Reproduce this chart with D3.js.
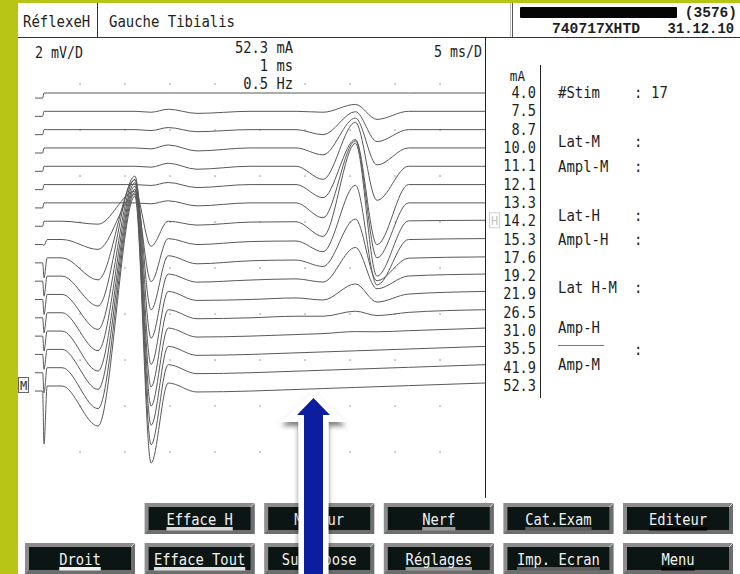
<!DOCTYPE html>
<html>
<head>
<meta charset="utf-8">
<script src="https://cdn.jsdelivr.net/npm/d3@7"></script>
<style>
  html, body { margin: 0; padding: 0; background: #fff; }
  svg { display: block; }
</style>
</head>
<body>
<svg id="screen" width="740" height="574"></svg>
<script>
// ---- H-reflex series, tibialis (left side) ----
// stimulus intensity of each sweep (mA), top to bottom
const stimLevels = ["4.0","7.5","8.7","10.0","11.1","12.1","13.3","14.2","15.3","17.6","19.2","21.9","26.5","31.0","35.5","41.9","52.3"];

// M response components per sweep (mV): initial negative dip, main positive peak, following trough
const mDip    = [0,0,0,0,0,0,0,0.13,0.43,0.96,1.30,1.52,1.65,1.74,1.74,1.78,1.74];
const mPeak   = [0,0,0,0,0,0,0,1.30,1.96,3.39,4.35,5.00,5.65,6.30,6.96,7.61,8.26];
const mTrough = [0,0.04,0.04,0.04,0.04,0.04,0.04,1.09,1.83,2.26,2.70,3.04,3.22,3.26,3.30,3.35,3.35];
// small late deflections after the M response (mV)
const lateHump = [0,0.09,0.09,0.13,0.13,0.09,0.09,0,0.04,0.09,0.09,0.13,0.13,0.13,0.13,0.13,0.13];
const lateSag  = [0,0.09,0.09,0.13,0.13,0.13,0.13,0.17,0.22,0.26,0.26,0.26,0.26,0.26,0.26,0.26,0.26];
// slow baseline drift after the M response (mV at 23 ms and at end of sweep)
const driftMid = [0,0,0,0,0,0,0,-0.04,-0.09,-0.13,-0.17,-0.22,-0.22,-0.22,-0.22,-0.22,-0.22];
const driftEnd = [0,0,0,0,0,0,0,0.04,0.04,0.04,0.09,0.13,0.13,0.13,0.13,0.13,0.13];
// H response components per sweep (mV)
const hDip    = [0,0.04,0.22,0.30,0.57,0.57,0.65,0.65,0.48,0.30,0.17,0.13,0.04,0,0,0,0];
const hPeak   = [0,0.30,0.78,1.30,1.91,1.96,2.70,3.39,2.39,1.74,1.30,0.52,0.13,0.04,0,0,0];
const hTrough = [0,0.35,0.52,0.74,1.48,2.61,2.39,2.39,1.96,0.96,0.52,0.30,0.09,0,0,0,0];
// stimulus artefact depth (mV)
const artifact = [0,0,0,0,0,0,0,0,0.26,0.87,0.87,0.87,0.87,0.87,0.87,1.09,2.52];
const preStimLevel = -0.22;   // level of the pre-stimulus segment (mV)

// latencies of the waveform landmarks (ms after stimulus)
const tM = { onset: 2.0, dip: 6.0, peak: 10.1, trough: 11.9, hump: 13.8, sag: 17.0, mid: 22.9 };
const tH = { onset: 28.0, dip: 31.0, peak: 34.6, trough: 37.0, end: 40.5 };
const sweepStart = -1, sweepEnd = 49;  // 5 ms/D x 10 divisions

// cursor positions
const hCursor = "14.2", mCursor = "52.3";

// side panel
const infoRows = [
  { label: "#Stim",   value: "17", row: 0 },
  { label: "Lat-M",   value: "",   row: 1 },
  { label: "Ampl-M",  value: "",   row: 2 },
  { label: "Lat-H",   value: "",   row: 3 },
  { label: "Ampl-H",  value: "",   row: 4 },
  { label: "Lat H-M", value: "",   row: 5 }
];

// soft keys: [row, column, label, marker colour]
const keys = [
  [0, 1, "Efface H",    "#d6d6d6"],
  [0, 2, "Moteur",      null],
  [0, 3, "Nerf",        "#9a9a9a"],
  [0, 4, "Cat.Exam",    "#5e5e5e"],
  [0, 5, "Editeur",     "#020202"],
  [1, 0, "Droit",       "#f2f2f2"],
  [1, 1, "Efface Tout", "#e0e0e0"],
  [1, 2, "Superpose",   null],
  [1, 3, "Réglages",    "#9a9a9a"],
  [1, 4, "Imp. Ecran",  "#5e5e5e"],
  [1, 5, "Menu",        "#020202"]
];

// ---- drawing ----
const svg = d3.select("#screen");
const MONO = "'DejaVu Sans Mono', monospace";

function monoText(g, str, x, y, o = {}) {
  const cw = o.cw || 8.4;
  return g.append("text")
    .attr("x", x).attr("y", y)
    .attr("font-family", o.family || MONO)
    .attr("font-size", o.size || 16)
    .attr("font-weight", o.weight || "normal")
    .attr("fill", o.fill || "#1e1e1e")
    .attr("text-anchor", o.anchor || "start")
    .attr("textLength", str.length * cw)
    .attr("lengthAdjust", "spacingAndGlyphs")
    .style("white-space", "pre")
    .text(str);
}

svg.append("rect").attr("width", 740).attr("height", 574).attr("fill", "#fff");

// frame of the screen
svg.append("rect").attr("x", 0).attr("y", 0).attr("width", 740).attr("height", 3).attr("fill", "#b7c616");
svg.append("rect").attr("x", 0).attr("y", 0).attr("width", 18).attr("height", 574).attr("fill", "#b7c616");

// header
const head = svg.append("g");
head.append("line").attr("x1", 18).attr("x2", 740).attr("y1", 37.5).attr("y2", 37.5).attr("stroke", "#333");
head.append("line").attr("x1", 97.5).attr("x2", 97.5).attr("y1", 3).attr("y2", 37).attr("stroke", "#333");
head.append("line").attr("x1", 510.5).attr("x2", 510.5).attr("y1", 3).attr("y2", 37).attr("stroke", "#bbb");
head.append("line").attr("x1", 512.5).attr("x2", 512.5).attr("y1", 3).attr("y2", 37).attr("stroke", "#555");
monoText(head, "RéflexeH", 23, 27);
monoText(head, "Gauche Tibialis", 109, 27);
head.append("rect").attr("x", 520).attr("y", 7).attr("width", 157).attr("height", 11)
  .attr("rx", 1).attr("fill", "#050505");
const serifMono = "'Liberation Mono', 'Courier New', monospace";
monoText(head, "(3576)", 737, 17, { family: serifMono, weight: "bold", anchor: "end", cw: 8.7, size: 15 });
monoText(head, "740717XHTD", 552, 33, { family: serifMono, weight: "bold", cw: 8.8, size: 15 });
monoText(head, "31.12.10", 734, 33, { family: serifMono, weight: "bold", anchor: "end", cw: 8.3, size: 15 });

// acquisition settings
monoText(svg, "2 mV/D", 35, 58, { cw: 8.0 });
monoText(svg, "52.3 mA", 293, 53, { anchor: "end", cw: 8.3 });
monoText(svg, "1 ms", 293, 71, { anchor: "end", cw: 8.3 });
monoText(svg, "0.5 Hz", 293, 89, { anchor: "end", cw: 8.3 });
monoText(svg, "5 ms/D", 482, 57, { anchor: "end", cw: 8.0 });

// scales
const x = d3.scaleLinear().domain([sweepStart, sweepEnd]).range([35, 485]);
const volt = d3.scaleLinear().domain([0, 20]).range([38, 498]);   // 2 mV/D, 10 divisions
const band = d3.scalePoint().domain(stimLevels).range([93, 386]);
const mvPx = v => volt(v) - volt(0);

// graticule dots
const gridT = d3.range(sweepStart + 5, sweepEnd - 1, 5);
const gridV = d3.range(2, 19, 2);
const dots = svg.append("g").attr("fill", "#a8a8a8");
gridV.forEach(v => gridT.forEach(t => {
  dots.append("rect").attr("x", x(t) - 0.7).attr("y", volt(v) - 0.7).attr("width", 1.5).attr("height", 1.5);
}));

// panel borders
svg.append("line").attr("x1", 485.5).attr("x2", 485.5).attr("y1", 37).attr("y2", 498).attr("stroke", "#222");
svg.append("line").attr("x1", 540.5).attr("x2", 540.5).attr("y1", 65).attr("y2", 398).attr("stroke", "#222");

// sweeps
function sweepPoints(i) {
  const base = t => driftMid[i] + (driftEnd[i] - driftMid[i]) * (t - tM.mid) / (sweepEnd - tM.mid);
  return [
    [sweepStart, preStimLevel], [-0.15, preStimLevel], [0, -artifact[i]], [0.35, 0],
    [tM.onset, 0], [tM.dip, -mDip[i]], [tM.peak, mPeak[i]], [tM.trough, -mTrough[i]],
    [tM.hump, lateHump[i]], [tM.sag, -lateSag[i]], [tM.mid, driftMid[i]],
    [tH.onset, base(tH.onset)], [tH.dip, base(tH.dip) - hDip[i]],
    [tH.peak, base(tH.peak) + hPeak[i]], [tH.trough, base(tH.trough) - hTrough[i]],
    [tH.end, base(tH.end)], [sweepEnd, driftEnd[i]]
  ];
}
const traces = svg.append("g").attr("fill", "none").attr("stroke", "#595959").attr("stroke-width", 1);
stimLevels.forEach((s, i) => {
  const y0 = band(s);
  const line = d3.line()
    .x(d => x(d[0]))
    .y(d => y0 - mvPx(d[1]))
    .curve(d3.curveMonotoneX);
  traces.append("path").attr("d", line(sweepPoints(i)));
});

// intensity column
monoText(svg, "mA", 525, 81, { anchor: "end", size: 14, cw: 7.6 });
const col = svg.append("g");
stimLevels.forEach(s => monoText(col, s, 536, band(s) + 5, { anchor: "end", cw: 8.2 }));

// cursors
const hy = band(hCursor);
svg.append("rect").attr("x", 489.5).attr("y", hy - 8.5).attr("width", 10).attr("height", 15)
  .attr("fill", "#fff").attr("stroke", "#d0d0d0");
svg.append("text").attr("x", 494.5).attr("y", hy + 4).attr("text-anchor", "middle")
  .attr("font-family", MONO).attr("font-size", 12).attr("fill", "#c4c4c4").text("H");
const my = band(mCursor);
svg.append("rect").attr("x", 18.5).attr("y", my - 8.5).attr("width", 10).attr("height", 15)
  .attr("fill", "#f4f4f4").attr("stroke", "#666");
svg.append("text").attr("x", 23.5).attr("y", my + 4).attr("text-anchor", "middle")
  .attr("font-family", MONO).attr("font-size", 12).attr("fill", "#333").text("M");

// results panel
const info = svg.append("g");
const infoY = [98, 147, 172, 221, 245, 293];
infoRows.forEach(r => {
  const y = infoY[r.row];
  monoText(info, r.label, 558, y);
  monoText(info, ":", 634, y);
  if (r.value) monoText(info, r.value, 651, y);
});
monoText(info, "Amp-H", 558, 333);
info.append("line").attr("x1", 558).attr("x2", 604).attr("y1", 345.5).attr("y2", 345.5).attr("stroke", "#777");
monoText(info, ":", 634, 355);
monoText(info, "Amp-M", 558, 370);

// soft keys
const keyX = d3.scaleLinear().domain([0, 5]).range([25, 623]);
const keyY = d3.scaleLinear().domain([0, 1]).range([503, 543]);
const kw = 110, kh = 31, bev = 4;
const keyG = svg.append("g");
keys.forEach(([row, c, label, mark]) => {
  const x0 = keyX(c), y0 = keyY(row);
  const g = keyG.append("g");
  g.append("rect").attr("x", x0).attr("y", y0).attr("width", kw).attr("height", kh).attr("fill", "#8c8c8c");
  g.append("path").attr("fill", "#6e6e6e")
    .attr("d", `M${x0 + kw},${y0} L${x0 + kw},${y0 + kh} L${x0},${y0 + kh} L${x0 + bev},${y0 + kh - bev} L${x0 + kw - bev},${y0 + kh - bev} L${x0 + kw - bev},${y0 + bev} Z`);
  g.append("line").attr("x1", x0 + kw - bev).attr("y1", y0 + bev).attr("x2", x0 + kw).attr("y2", y0)
    .attr("stroke", "#d8d8d8").attr("stroke-width", 1);
  g.append("rect").attr("x", x0 + bev).attr("y", y0 + bev).attr("width", kw - 2 * bev).attr("height", kh - 2 * bev)
    .attr("fill", "#0b1614");
  const cx = x0 + kw / 2, tw = label.length * 8.3;
  if (mark) g.append("rect").attr("x", cx - tw / 2).attr("y", y0 + 24).attr("width", tw).attr("height", 3.5).attr("fill", mark);
  monoText(g, label, cx, y0 + 22, { anchor: "middle", fill: "#f2f2f2", cw: 8.3 });
});

// pointer arrow
const defs = svg.append("defs");
const f = defs.append("filter").attr("id", "shade").attr("x", "-50%").attr("y", "-50%").attr("width", "200%").attr("height", "200%");
f.append("feDropShadow").attr("dx", 0).attr("dy", 4).attr("stdDeviation", 2.5)
  .attr("flood-color", "#000").attr("flood-opacity", 0.5);
const ax = 313.5;
svg.append("path").attr("filter", "url(#shade)").attr("fill", "#fff")
  .attr("d", `M${ax},392 L${ax + 32},422 L${ax + 15},422 L${ax + 15},590 L${ax - 15},590 L${ax - 15},422 L${ax - 32},422 Z`);
svg.append("path").attr("fill", "#0c1d9f")
  .attr("d", `M${ax},398 L${ax + 16.5},415 L${ax + 9.5},415 L${ax + 9.5},590 L${ax - 9.5},590 L${ax - 9.5},415 L${ax - 16.5},415 Z`);
</script>
</body>
</html>
